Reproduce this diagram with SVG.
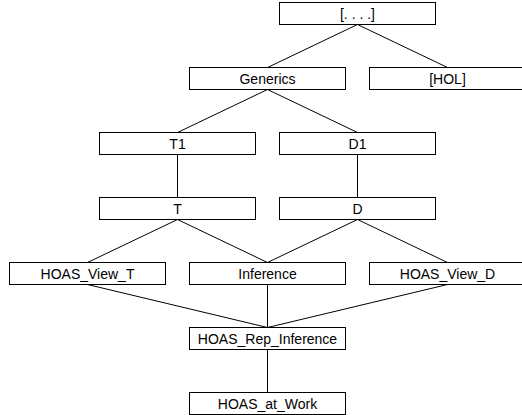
<svg xmlns="http://www.w3.org/2000/svg" width="522" height="415" viewBox="0 0 522 415">
<style>
rect.n{fill:#fff;stroke:#000;stroke-width:1}
text{font-family:"Liberation Sans",Arial,sans-serif;font-size:14px;fill:#000;text-anchor:middle}
#edges line{stroke:#000;stroke-width:1}
</style>
<rect width="522" height="415" fill="#fff"/>
<g id="edges">
<line x1="357.5" y1="24.5" x2="267.5" y2="67.5"/>
<line x1="357.5" y1="24.5" x2="447.5" y2="67.5"/>
<line x1="267.5" y1="89.5" x2="177.5" y2="132.5"/>
<line x1="267.5" y1="89.5" x2="357.5" y2="132.5"/>
<line x1="177.5" y1="154.5" x2="177.5" y2="197.5"/>
<line x1="357.5" y1="154.5" x2="357.5" y2="197.5"/>
<line x1="177.5" y1="219.5" x2="87.5" y2="262.5"/>
<line x1="177.5" y1="219.5" x2="267.5" y2="262.5"/>
<line x1="357.5" y1="219.5" x2="267.5" y2="262.5"/>
<line x1="357.5" y1="219.5" x2="447.5" y2="262.5"/>
<line x1="87.5" y1="284.5" x2="267.5" y2="327.5"/>
<line x1="267.5" y1="284.5" x2="267.5" y2="327.5"/>
<line x1="447.5" y1="284.5" x2="267.5" y2="327.5"/>
<line x1="267.5" y1="349.5" x2="267.5" y2="392.5"/>
</g>
<g id="top"><rect class="n" x="279.5" y="2.5" width="156" height="22"/><text x="357.5" y="18.5">[. . . .]</text></g>
<g id="Generics"><rect class="n" x="189.5" y="67.5" width="156" height="22"/><text x="267.5" y="83.5">Generics</text></g>
<g id="HOL"><rect class="n" x="369.5" y="67.5" width="156" height="22"/><text x="447.5" y="83.5">[HOL]</text></g>
<g id="T1"><rect class="n" x="99.5" y="132.5" width="156" height="22"/><text x="177.5" y="148.5">T1</text></g>
<g id="D1"><rect class="n" x="279.5" y="132.5" width="156" height="22"/><text x="357.5" y="148.5">D1</text></g>
<g id="T"><rect class="n" x="99.5" y="197.5" width="156" height="22"/><text x="177.5" y="213.5">T</text></g>
<g id="D"><rect class="n" x="279.5" y="197.5" width="156" height="22"/><text x="357.5" y="213.5">D</text></g>
<g id="HOAS_View_T"><rect class="n" x="9.5" y="262.5" width="156" height="22"/><text x="87.5" y="278.5">HOAS_View_T</text></g>
<g id="Inference"><rect class="n" x="189.5" y="262.5" width="156" height="22"/><text x="267.5" y="278.5">Inference</text></g>
<g id="HOAS_View_D"><rect class="n" x="369.5" y="262.5" width="156" height="22"/><text x="447.5" y="278.5">HOAS_View_D</text></g>
<g id="HOAS_Rep_Inference"><rect class="n" x="189.5" y="327.5" width="156" height="22"/><text x="267.5" y="343.5">HOAS_Rep_Inference</text></g>
<g id="HOAS_at_Work"><rect class="n" x="189.5" y="392.5" width="156" height="22"/><text x="267.5" y="408.5">HOAS_at_Work</text></g>
</svg>
